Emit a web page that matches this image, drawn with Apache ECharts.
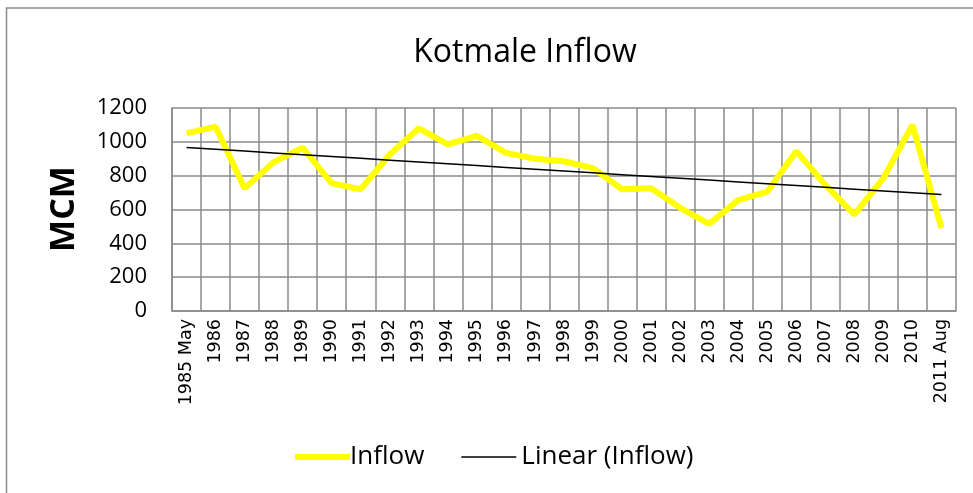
<!DOCTYPE html>
<html>
<head>
<meta charset="utf-8">
<script src="https://cdn.jsdelivr.net/npm/echarts@6/dist/echarts.min.js"></script>
<style>
html,body{margin:0;padding:0;background:#fff;}
#chart{width:973px;height:493px;}
</style>
</head>
<body>
<div id="chart"></div>
<script>
const categories = ['1985 May','1986','1987','1988','1989','1990','1991','1992','1993','1994','1995','1996','1997','1998','1999','2000','2001','2002','2003','2004','2005','2006','2007','2008','2009','2010','2011 Aug'];
const inflow = [1050,1090,725,880,965,755,720,925,1080,985,1035,935,900,885,845,720,725,610,515,655,705,945,745,570,785,1100,490];
const yTicks = [0,200,400,600,800,1000,1200];

// Linear trend (least squares) of the inflow series
const n = inflow.length;
let sx=0, sy=0, sxx=0, sxy=0;
inflow.forEach((v,i)=>{sx+=i; sy+=v; sxx+=i*i; sxy+=i*v;});
const slope = (n*sxy - sx*sy)/(n*sxx - sx*sx);
const intercept = (sy - slope*sx)/n;
const trend = inflow.map((v,i)=>intercept + slope*i);

const chart = echarts.init(document.getElementById('chart'), null, {renderer:'canvas'});
const gridColor = '#8a8a8a';
chart.setOption({
  animation:false,
  backgroundColor:'#fff',
  grid:{left:172, right:17, top:108, bottom:182, containLabel:false},
  graphic:[
    {type:'rect', shape:{x:6.5, y:8, width:1000, height:1000}, style:{fill:'none', stroke:'#8a8a8a', lineWidth:1.5}, silent:true},
    {type:'text', x:525, y:53, style:{text:'Kotmale Inflow', font:'32px "Open Sans"', fill:'#000', textAlign:'center', textVerticalAlign:'middle'}},
    {type:'text', x:64, y:209, rotation:Math.PI/2, style:{text:'MCM', font:'bold 34px "Open Sans"', fill:'#000', textAlign:'center', textVerticalAlign:'middle'}}
  ],
  legend:{
    left:290, top:438, itemWidth:55, itemHeight:14, itemGap:37,
    textStyle:{fontFamily:'Open Sans', fontSize:26, color:'#000', lineHeight:28, padding:[0,0,0,-5]},
    data:[
      {name:'Inflow', icon:'path://M0,0H55V6H0Z'},
      {name:'Linear (Inflow)', icon:'path://M0,0H55V1.5H0Z', textStyle:{padding:[0,0,0,0]}}
    ]
  },
  xAxis:{
    type:'category', data:categories, boundaryGap:true,
    axisLine:{show:true, lineStyle:{color:gridColor, width:1.5}},
    axisTick:{show:false},
    splitLine:{show:true, lineStyle:{color:gridColor, width:1.5}},
    axisLabel:{rotate:90, interval:0, margin:8, fontFamily:'DejaVu Sans', fontSize:17.5, color:'#000'}
  },
  yAxis:{
    type:'value', min:0, max:1200, interval:200,
    axisLine:{show:true, lineStyle:{color:gridColor, width:1.5}},
    axisTick:{show:false},
    splitLine:{show:true, lineStyle:{color:gridColor, width:1.5}},
    axisLabel:{margin:25, fontFamily:'Open Sans', fontSize:22, color:'#000',
      formatter:(v)=> yTicks.includes(v) ? String(v) : ''}
  },
  series:[
    {name:'Inflow', type:'line', data:inflow, showSymbol:false, symbol:'none',
      lineStyle:{color:'#ffff00', width:6}, itemStyle:{color:'#ffff00'}, z:3},
    {name:'Linear (Inflow)', type:'line', data:trend, showSymbol:false, symbol:'none',
      lineStyle:{color:'#000', width:1.5}, itemStyle:{color:'#000'}, z:4}
  ]
});
</script>
</body>
</html>
